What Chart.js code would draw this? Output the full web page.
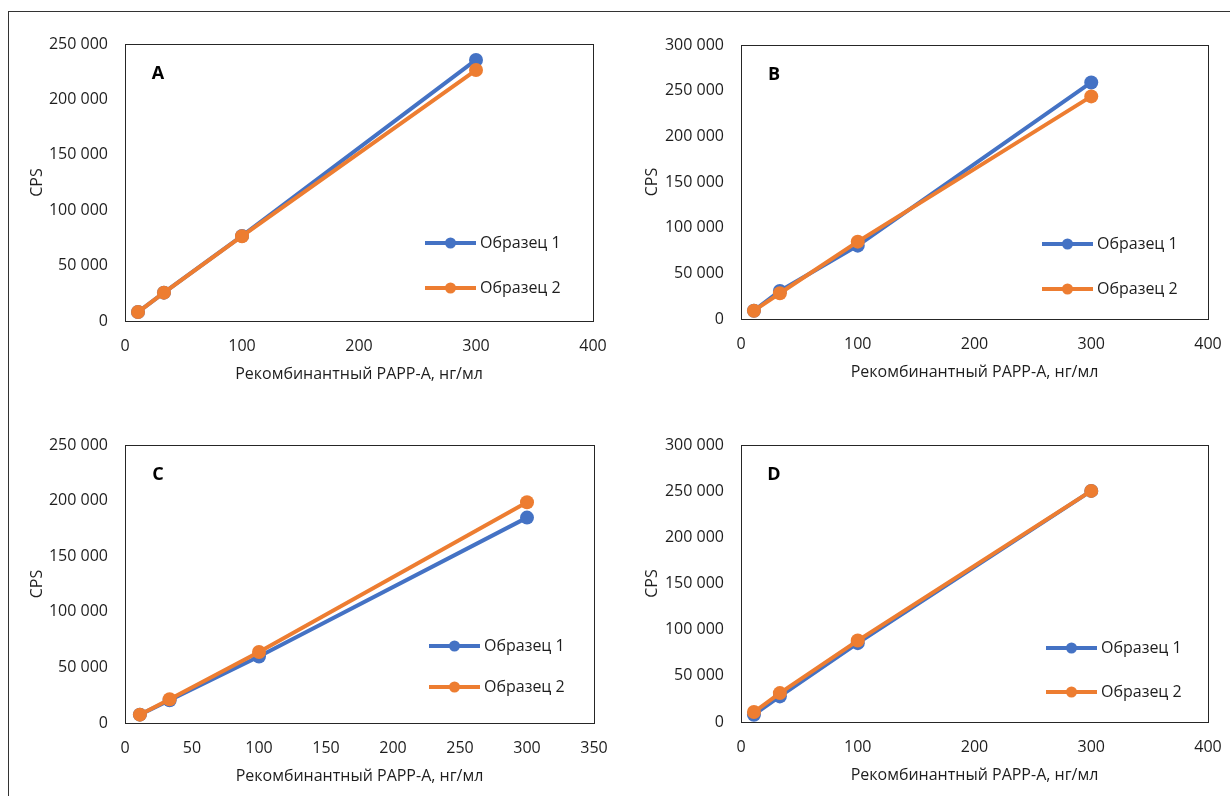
<!DOCTYPE html>
<html>
<head>
<meta charset="utf-8">
<script src="https://cdn.jsdelivr.net/npm/chart.js@4/dist/chart.umd.min.js"></script>
<style>
  html, body { margin: 0; padding: 0; background: #fff; }
  body { width: 1230px; height: 796px; position: relative; overflow: hidden; }
  .frame { position: absolute; left: 8px; top: 11px; right: -2px; bottom: -2px; border-top: 1px solid #333; border-left: 1px solid #333; }
  canvas { position: absolute; }
</style>
</head>
<body>
<div class="frame"></div>
<canvas id="cA" width="615" height="398" style="left:0;top:0"></canvas>
<canvas id="cB" width="615" height="398" style="left:615px;top:0"></canvas>
<canvas id="cC" width="615" height="398" style="left:0;top:398px"></canvas>
<canvas id="cD" width="615" height="398" style="left:615px;top:398px"></canvas>
<script>
// ---- data ----
const concentrations = [11.1, 33.3, 100, 300];
const seriesNames = ['Образец 1', 'Образец 2'];
const panelLetters = ['A', 'B', 'C', 'D'];

const panelA_sample1 = [8100, 25600, 76800, 235600];
const panelA_sample2 = [8100, 25600, 76500, 226500];
const panelB_sample1 = [9100, 30700, 80300, 259000];
const panelB_sample2 = [9100, 28200, 84700, 243700];
const panelC_sample1 = [7500, 20500, 59800, 184700];
const panelC_sample2 = [7500, 21300, 63800, 198500];
const panelD_sample1 = [7900, 27700, 85400, 250300];
const panelD_sample2 = [10800, 31300, 88200, 250300];

const xAxisMax = [400, 400, 350, 400];
const xAxisStep = [100, 100, 50, 100];
const yAxisMax = [250000, 300000, 250000, 300000];
const yAxisStep = [50000, 50000, 50000, 50000];

const xTitle = 'Рекомбинантный PAPP-A, нг/мл';
const yTitle = 'CPS';

// ---- styles / layout ----
const COLORS = ['#4472C4', '#ED7D31'];
const FONT = '"Open Sans", "Noto Sans", sans-serif';
const TEXT = '#1e1e1e';
const FS = 16;

// chart area per panel (within its 615x398 canvas)
const layouts = [
  {left: 125, right: 593, top: 44, bottom: 321, legX: 300, legY: [199, 244]},
  {left: 126, right: 593, top: 45, bottom: 319, legX: 301, legY: [199, 244]},
  {left: 125, right: 594, top: 47, bottom: 325, legX: 304, legY: [201, 242]},
  {left: 126, right: 593, top: 47, bottom: 324, legX: 305, legY: [203, 247]},
];

function fmt(v) {
  return String(Math.round(v)).replace(/\B(?=(\d{3})+(?!\d))/g, ' ');
}

const decorPlugin = {
  id: 'decor',
  afterDraw(chart, args, opts) {
    const ctx = chart.ctx, a = chart.chartArea;
    ctx.save();
    // plot border
    ctx.strokeStyle = '#262626';
    ctx.lineWidth = 1;
    ctx.strokeRect(Math.round(a.left) + 0.5, Math.round(a.top) + 0.5,
                   Math.round(a.right - a.left), Math.round(a.bottom - a.top));
    // panel letter
    ctx.fillStyle = '#000';
    ctx.font = 'bold 18px ' + FONT;
    ctx.textAlign = 'center';
    ctx.textBaseline = 'middle';
    ctx.fillText(opts.letter, a.left + 33, a.top + 30);
    // legend
    chart.data.datasets.forEach((ds, i) => {
      const y = a.top + opts.legY[i];
      const x0 = a.left + opts.legX;
      ctx.strokeStyle = ds.borderColor;
      ctx.lineWidth = 4;
      ctx.beginPath();
      ctx.moveTo(x0, y);
      ctx.lineTo(x0 + 51, y);
      ctx.stroke();
      ctx.fillStyle = ds.backgroundColor;
      ctx.beginPath();
      ctx.arc(x0 + 25.5, y, 5.5, 0, Math.PI * 2);
      ctx.fill();
      ctx.fillStyle = TEXT;
      ctx.font = FS + 'px ' + FONT;
      ctx.textAlign = 'left';
      ctx.fillText(ds.label, x0 + 55, y);
    });
    ctx.restore();
  }
};

const panelSeries = [
  [panelA_sample1, panelA_sample2],
  [panelB_sample1, panelB_sample2],
  [panelC_sample1, panelC_sample2],
  [panelD_sample1, panelD_sample2],
];

['cA', 'cB', 'cC', 'cD'].forEach((id, p) => {
  const L = layouts[p];
  const H = 398, W = 615;
  const padLeft = 28;
  const xHeight = 63;
  const datasets = panelSeries[p].map((vals, i) => ({
    label: seriesNames[i],
    data: concentrations.map((x, k) => ({x: x, y: vals[k]})),
    borderColor: COLORS[i],
    backgroundColor: COLORS[i],
    pointBackgroundColor: COLORS[i],
    pointBorderColor: COLORS[i],
    borderWidth: 4,
    pointRadius: 7,
    pointBorderWidth: 0,
    tension: 0,
    order: 1 - i,
  }));
  new Chart(document.getElementById(id), {
    type: 'line',
    data: {datasets},
    plugins: [decorPlugin],
    options: {
      responsive: false,
      animation: false,
      devicePixelRatio: 1,
      layout: {padding: {left: padLeft, right: W - L.right, top: L.top, bottom: H - L.bottom - xHeight}},
      plugins: {
        legend: {display: false},
        tooltip: {enabled: false},
        decor: {letter: panelLetters[p], legX: L.legX, legY: L.legY},
      },
      scales: {
        x: {
          type: 'linear',
          min: 0, max: xAxisMax[p],
          ticks: {stepSize: xAxisStep[p], color: TEXT, font: {family: FONT, size: FS}, padding: 16},
          grid: {display: false, drawTicks: false},
          border: {display: false},
          title: {display: true, text: xTitle, color: TEXT, font: {family: FONT, size: FS}, padding: 0},
          afterFit(s) { s.height = xHeight; s.paddingLeft = 0; s.paddingRight = 0; },
        },
        y: {
          type: 'linear',
          min: 0, max: yAxisMax[p],
          ticks: {stepSize: yAxisStep[p], color: TEXT, font: {family: FONT, size: FS}, padding: 17, callback: v => fmt(v)},
          grid: {display: false, drawTicks: false},
          border: {display: false},
          title: {display: true, text: yTitle, color: TEXT, font: {family: FONT, size: FS}, padding: 0},
          afterFit(s) { s.width = L.left - padLeft; s.paddingTop = 0; s.paddingBottom = 0; },
        },
      },
    },
  });
});
</script>
</body>
</html>
